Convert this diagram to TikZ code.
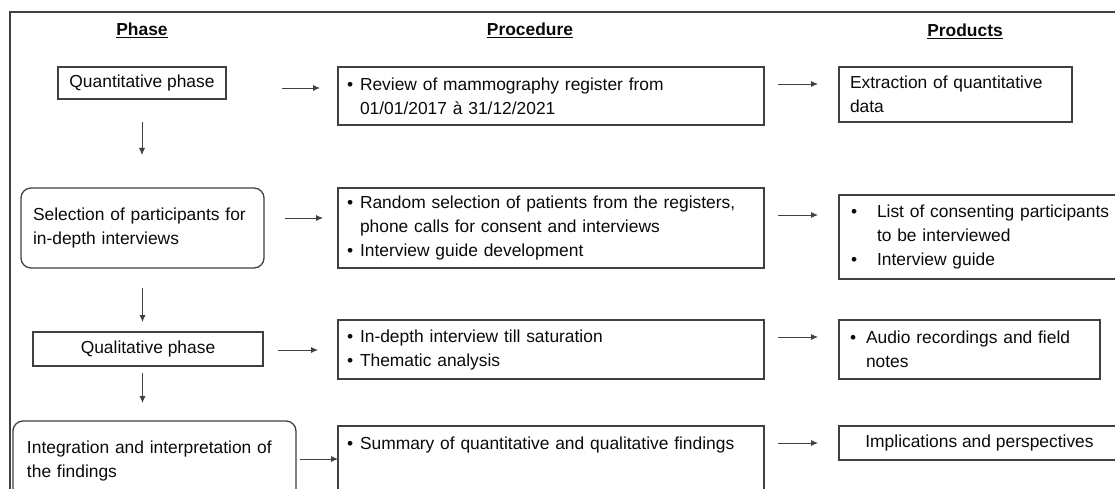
\documentclass[tikz,border=0pt]{standalone}
\usepackage{fontspec}
\setmainfont{Liberation Sans}
\usetikzlibrary{arrows.meta}
\definecolor{boxline}{RGB}{64,64,64}
\definecolor{inktext}{RGB}{10,10,10}
\newcommand{\bitem}[1][13pt]{\makebox[#1][l]{\textbullet}}
\newcommand{\bskip}[1][13pt]{\hspace*{#1}}

\begin{document}
\begin{tikzpicture}[x=1pt,y=-1pt,
    every node/.style={font=\fontsize{17.4}{24}\selectfont, text=inktext},
    box/.style={draw=boxline, line width=1.3pt, inner ysep=0pt, outer sep=0pt},
    roundbox/.style={box, rounded corners=10pt},
    arr/.style={-{Latex[length=7pt,width=6pt]}, line width=0.8pt, draw=boxline},
    head/.style={font=\fontsize{17.4}{24}\selectfont\bfseries}]
    \useasboundingbox (0,0) rectangle (1115,489);
    \clip (0,0) rectangle (1115,489);
    \draw[boxline, line width=1.3pt] (10,12) rectangle (1130,505);
    % headers
    \node[head] (hphase) at (142,30) {\underline{Phase}};
    \node[head] (hproc)  at (530,30) {\underline{Procedure}};
    \node[head] (hprod)  at (965,31) {\underline{Products}};
    % phase column
    \node[box, minimum width=168pt, minimum height=32pt] (ph1) at (142,83) {Quantitative phase};
    \node[roundbox, text width=219pt, inner xsep=12pt, minimum height=80pt, align=left] (ph2) at (142.5,228)
        {Selection of participants for\\in-depth interviews};
    \node[box, minimum width=230pt, minimum height=34pt] (ph3) at (148,349) {Qualitative phase};
    \node[roundbox, anchor=north west, text width=255pt, inner xsep=14pt, inner ysep=20pt, text depth=60pt, align=left] (ph4) at (13,421)
        {Integration and interpretation of\\the findings};
    % procedure column
    \node[box, text width=408pt, inner xsep=9pt, minimum height=58pt, align=left] (pr1) at (551,96)
        {\bitem Review of mammography register from\\\bskip 01/01/2017 à 31/12/2021};
    \node[box, text width=408pt, inner xsep=9pt, minimum height=80pt, align=left] (pr2) at (551,228)
        {\bitem Random selection of patients from the registers,\\\bskip phone calls for consent and interviews\\\bitem Interview guide development};
    \node[box, text width=408pt, inner xsep=9pt, minimum height=59pt, align=left] (pr3) at (551,349.5)
        {\bitem In-depth interview till saturation\\\bitem Thematic analysis};
    \node[box, anchor=north west, text width=408pt, inner xsep=9pt, inner ysep=11pt, text depth=60pt, align=left] (pr4) at (338,426)
        {\bitem Summary of quantitative and qualitative findings};
    % products column
    \node[box, text width=211pt, inner xsep=11pt, minimum height=55pt, align=left] (pd1) at (955.5,94.5)
        {Extraction of quantitative\\data};
    \node[box, text width=262pt, inner xsep=12pt, minimum height=84pt, align=left] (pd2) at (982,237)
        {\bitem[26pt]List of consenting participants\\\bskip[26pt]to be interviewed\\\bitem[26pt]Interview guide};
    \node[box, text width=239pt, inner xsep=11pt, minimum height=59pt, align=left] (pd3) at (969.5,349.5)
        {\bitem[16pt]Audio recordings and field\\\bskip[16pt]notes};
    \node[box, minimum width=281pt, minimum height=34pt] (pd4) at (979.5,443) {Implications and perspectives};
    % horizontal arrows
    \draw[arr, shorten <=56pt, shorten >=18pt] (ph1.east |- 0,88) -- (pr1.west |- 0,88);
    \draw[arr, shorten <=14pt, shorten >=21pt] (pr1.east |- 0,84) -- (pd1.west |- 0,84);
    \draw[arr, shorten <=21pt, shorten >=15pt] (ph2.east |- 0,218) -- (pr2.west |- 0,218);
    \draw[arr, shorten <=14pt, shorten >=21pt] (pr2.east |- 0,215) -- (pd2.west |- 0,215);
    \draw[arr, shorten <=15pt, shorten >=20pt] (ph3.east |- 0,350) -- (pr3.west |- 0,350);
    \draw[arr, shorten <=14pt, shorten >=21pt] (pr3.east |- 0,337) -- (pd3.west |- 0,337);
    \draw[arr, shorten <=4pt] (ph4.east |- 0,459) -- (pr4.west |- 0,459);
    \draw[arr, shorten <=14pt, shorten >=21pt] (pr4.east |- 0,443) -- (pd4.west |- 0,443);
    % vertical arrows
    \draw[arr, shorten <=23pt, shorten >=33pt] (ph1.south) -- (ph1.south |- ph2.north);
    \draw[arr, shorten <=20pt, shorten >=10pt] (ph2.south) -- (ph2.south |- ph3.north);
    \draw[arr, shorten <=7pt, shorten >=18pt] (ph2.south |- ph3.south) -- (ph2.south |- ph4.north);
\end{tikzpicture}
\end{document}
